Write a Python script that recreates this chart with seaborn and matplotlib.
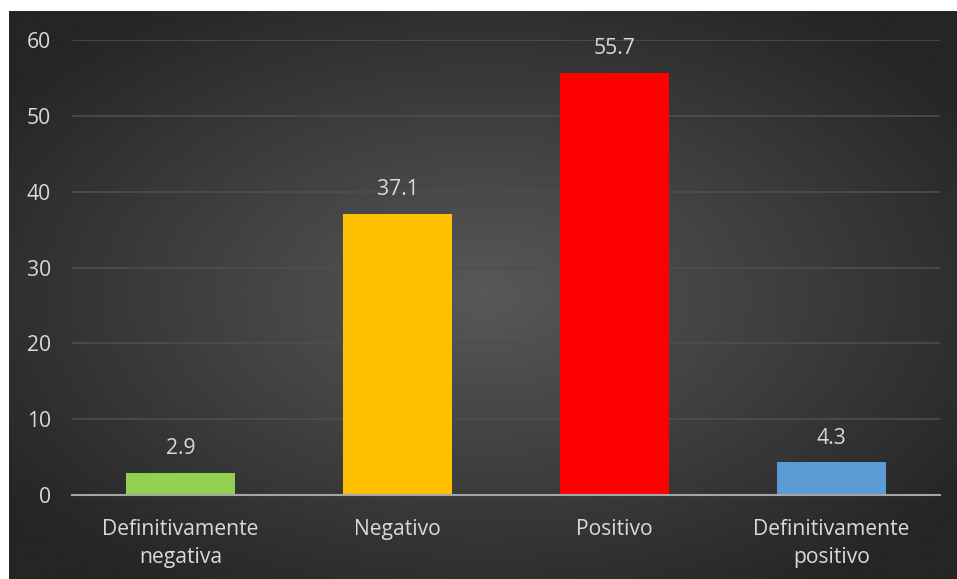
import numpy as np
import pandas as pd
import matplotlib
matplotlib.use("Agg")
import matplotlib.pyplot as plt
import seaborn as sns

categories = ["Definitivamente\nnegativa", "Negativo", "Positivo", "Definitivamente\npositivo"]
values = [2.9, 37.1, 55.7, 4.3]
value_labels = ["2.9", "37.1", "55.7", "4.3"]
colors = ["#92D050", "#FFC000", "#FF0000", "#5B9BD5"]
yticks = [0, 10, 20, 30, 40, 50, 60]

sns.set_theme(style="dark")
plt.rcParams['font.family'] = ['Open Sans', 'DejaVu Sans']

W, H = 957, 579
fig = plt.figure(figsize=(W / 100, H / 100), dpi=100)
fig.patch.set_facecolor("white")

# dark radial gradient panel
bg = fig.add_axes([9 / W, 0, (W - 9) / W, (H - 11) / H], zorder=0)
yy, xx = np.mgrid[0:1:300j, 0:1:500j]
r = np.sqrt(((xx - 0.5) / 0.62) ** 2 + ((yy - 0.5) / 0.62) ** 2)
r = np.clip(r, 0, 1)
c0 = np.array([0x58, 0x58, 0x58]) / 255
c1 = np.array([0x25, 0x25, 0x25]) / 255
img = c0[None, None, :] * (1 - r[..., None]) + c1[None, None, :] * r[..., None]
bg.imshow(img, aspect="auto", extent=[0, 1, 0, 1], interpolation="bilinear")
bg.set_axis_off()

ax = fig.add_axes([72 / W, (H - 495) / H, (940 - 72) / W, (495 - 40) / H], zorder=1)
ax.set_facecolor("none")

df = pd.DataFrame({"cat": categories, "val": values})
sns.barplot(data=df, x="cat", y="val", hue="cat", palette=colors, legend=False,
            width=0.5, saturation=1, ax=ax, zorder=3, linewidth=0)

ax.set_ylim(0, 60)
ax.set_yticks(yticks)
ax.set_xlim(-0.5, 3.5)
ax.set_xlabel("")
ax.set_ylabel("")
ax.grid(axis="y", color="#4e4e4e", linewidth=1.2, zorder=0)
ax.grid(axis="x", visible=False)
for s in ["top", "right", "left"]:
    ax.spines[s].set_visible(False)
ax.spines["bottom"].set_color("#a6a6a6")
ax.spines["bottom"].set_linewidth(1.5)
ax.spines["bottom"].set_zorder(4)
ax.tick_params(axis="both", length=0, colors="#d9d9d9", labelsize=15.2)
ax.tick_params(axis="y", pad=15)
ax.tick_params(axis="x", pad=17)
for lbl in ax.get_xticklabels() + ax.get_yticklabels():
    lbl.set_color("#d9d9d9")
    lbl.set_linespacing(1.45)

for i, (v, t) in enumerate(zip(values, value_labels)):
    ax.annotate(t, (i, v), xytext=(0, 10), textcoords="offset points",
                ha="center", va="bottom", color="#d9d9d9", fontsize=15.2)

fig.savefig("out.png", dpi=100, facecolor=fig.get_facecolor())
